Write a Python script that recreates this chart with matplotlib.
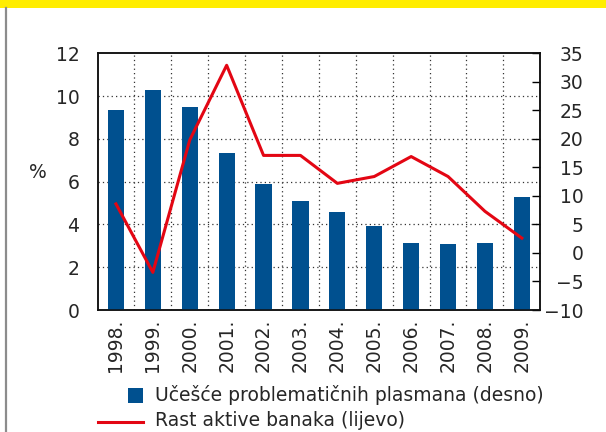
import matplotlib
matplotlib.use("Agg")
import matplotlib.pyplot as plt
from matplotlib.lines import Line2D
from matplotlib.patches import Rectangle
import numpy as np

# data
years = ["1998.", "1999.", "2000.", "2001.", "2002.", "2003.",
         "2004.", "2005.", "2006.", "2007.", "2008.", "2009."]
bar_vals = [9.35, 10.3, 9.5, 7.35, 5.9, 5.1, 4.6, 3.95, 3.15, 3.1, 3.15, 5.3]
line_vals = [8.6, -3.4, 19.8, 32.9, 17.1, 17.1, 12.2, 13.4, 16.9, 13.4, 7.3, 2.6]
bar_label = "Učešće problematičnih plasmana (desno)"
line_label = "Rast aktive banaka (lijevo)"

blue = "#00508F"
red = "#E30613"
txt = "#262626"

plt.rcParams["font.family"] = ["DejaVu Sans"]

fig = plt.figure(figsize=(6.06, 4.32), dpi=100)
ax = fig.add_axes([97.5 / 606, 1 - 310 / 432, (540.3 - 97.5) / 606, (310 - 53.3) / 432])
ax2 = ax.twinx()

x = np.arange(len(years))
ax.bar(x, bar_vals, width=0.44, color=blue, zorder=3)
ax2.plot(x, line_vals, color=red, lw=2.2, zorder=4)

ax.set_xlim(-0.5, len(years) - 0.5)
ax.set_ylim(0, 12)
ax.set_yticks(range(0, 13, 2))
ax2.set_ylim(-10, 35)
ax2.set_yticks(range(-10, 36, 5))

ax.set_xticks(x)
ax.set_xticklabels(years, rotation=90, fontsize=13.5, color=txt)
ax.tick_params(axis="x", length=0, pad=6)
ax.tick_params(axis="y", length=0, pad=13, labelsize=13.5, labelcolor=txt)
ax2.tick_params(axis="y", direction="in", length=6, width=1, pad=31,
                labelsize=13.5, labelcolor=txt)
for lab in ax2.get_yticklabels():
    lab.set_horizontalalignment("right")

# dotted grid: horizontal at left ticks, vertical between the bars
for yv in range(2, 12, 2):
    ax.axhline(yv, color="#333333", lw=0.9, ls=(0, (1, 2.5)), zorder=1)
for xv in np.arange(0.5, len(years) - 1, 1.0):
    ax.axvline(xv, color="#333333", lw=0.9, ls=(0, (1, 2.5)), zorder=1)

for a in (ax, ax2):
    for s in a.spines.values():
        s.set_linewidth(1.1)
        s.set_color("#111111")

ax.set_ylabel("%", rotation=0, fontsize=13.5, color=txt)
ax.yaxis.set_label_coords(-0.135, 0.5)

# decorations: yellow band on top and grey rule at the left
fig.add_artist(Rectangle((0, 1 - 7.5 / 432), 1, 7.5 / 432, transform=fig.transFigure,
                         color="#FFED00", lw=0))
fig.add_artist(Line2D([6 / 606, 6 / 606], [0, 1 - 7.5 / 432], transform=fig.transFigure,
                      color="#8c8c8c", lw=1.6))

# legend drawn by hand to mimic the layout
fig.add_artist(Rectangle((128 / 606, 1 - 403 / 432), 15 / 606, 15 / 432,
                         transform=fig.transFigure, color=blue, lw=0))
fig.text(155 / 606, 1 - 395 / 432, bar_label, fontsize=13.5, color=txt, va="center")
fig.add_artist(Line2D([98 / 606, 143 / 606], [1 - 422 / 432, 1 - 422 / 432],
                      transform=fig.transFigure, color=red, lw=2.2))
fig.text(155 / 606, 1 - 420 / 432, line_label, fontsize=13.5, color=txt, va="center")

fig.savefig("out.png", dpi=100)
